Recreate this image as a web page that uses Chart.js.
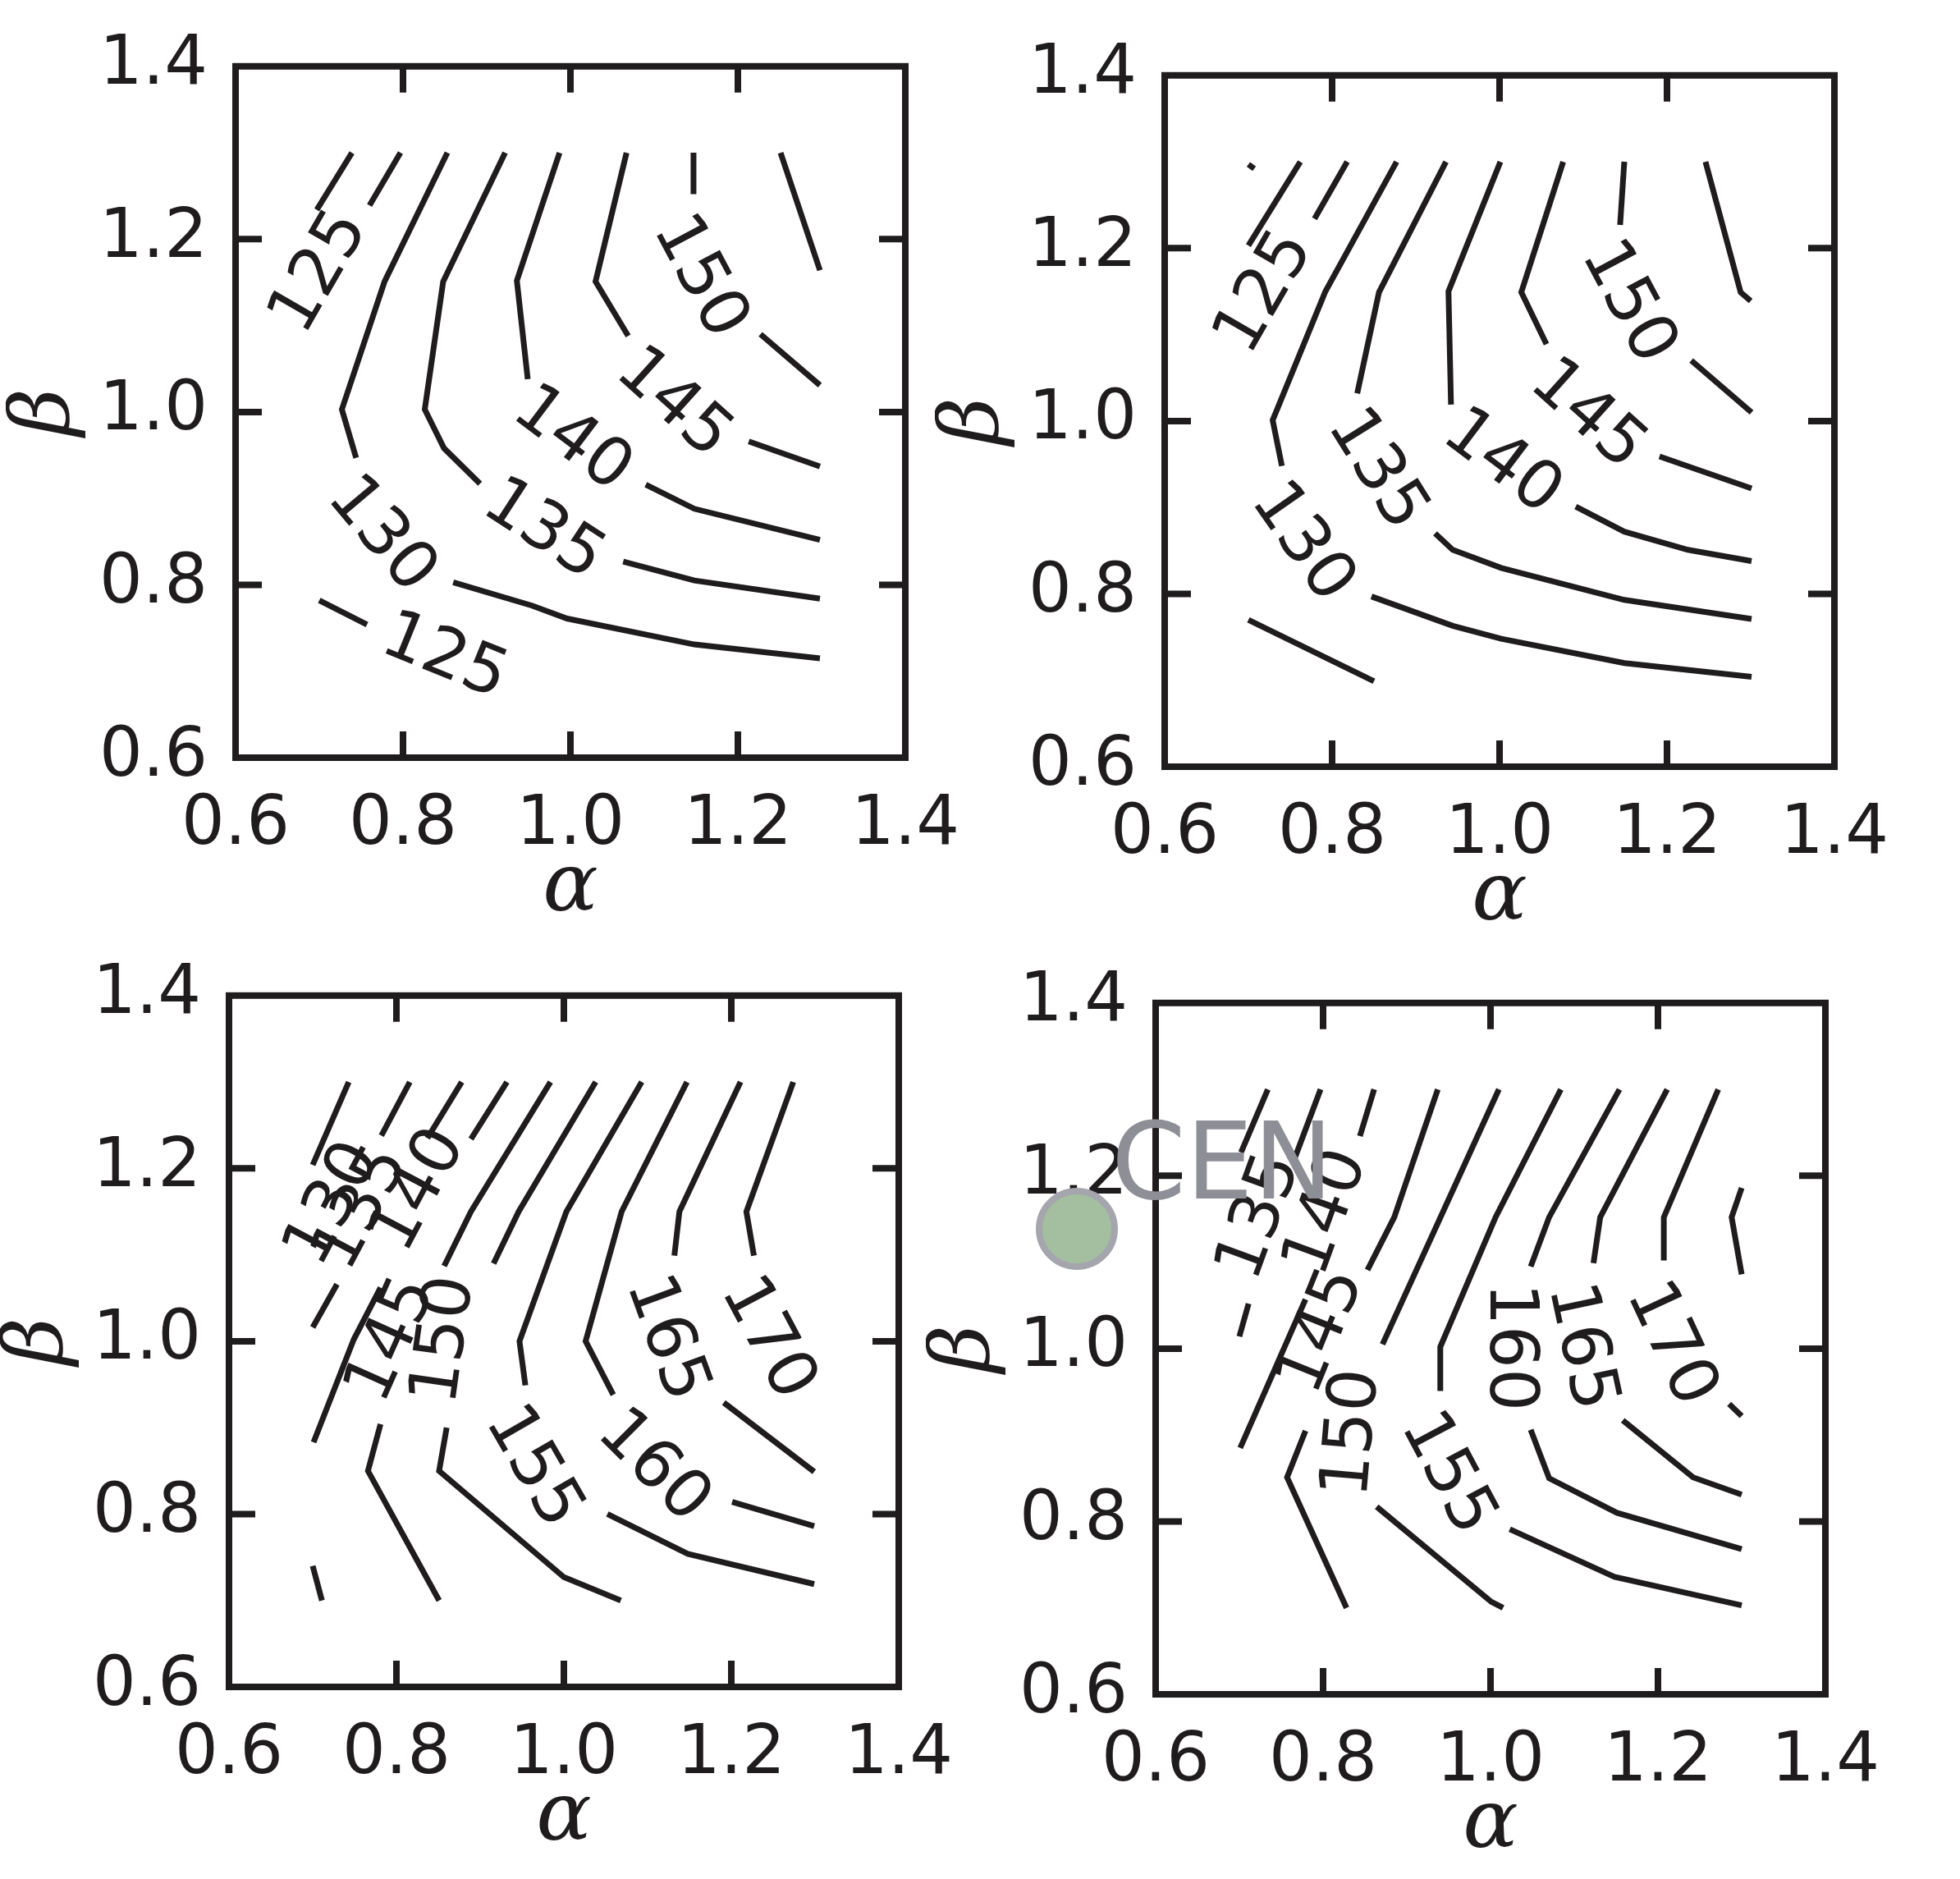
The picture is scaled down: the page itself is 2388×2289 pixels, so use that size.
<!DOCTYPE html>
<html><head><meta charset="utf-8">
<script src="https://cdn.jsdelivr.net/npm/chart.js@4"></script>
<style>
html,body{margin:0;padding:0;background:#fff;width:2388px;height:2289px;overflow:hidden;position:relative}
canvas{position:absolute}
#cen{position:absolute;left:1262px;top:1447px;width:84px;height:84px;border-radius:50%;background:#a3bfa0;border:8px solid #a5a6ad}
#centxt{position:absolute;left:1354px;top:1350px;font:130px "DejaVu Sans";line-height:130px;color:#8e8f96}
</style></head><body>
<div id="cen"></div><div id="centxt">CEN</div>
<script>
// ---- data (alpha, beta) ----
const xTicks=[0.6,0.8,1.0,1.2,1.4];
const yTicks=[0.6,0.8,1.0,1.2,1.4];
const p1Lines=[
 [[0.739,1.300],[0.697,1.234]],
 [[0.797,1.300],[0.760,1.239]],
 [[0.853,1.300],[0.778,1.151],[0.727,1.003],[0.744,0.947]],
 [[0.860,0.803],[0.954,0.776],[0.996,0.761],[1.148,0.731],[1.298,0.715]],
 [[0.922,1.300],[0.848,1.151],[0.826,1.003],[0.849,0.958],[0.892,0.917]],
 [[1.063,0.827],[1.148,0.805],[1.298,0.784]],
 [[0.987,1.300],[0.936,1.152],[0.949,1.038]],
 [[1.090,0.916],[1.148,0.888],[1.298,0.852]],
 [[1.067,1.300],[1.030,1.151],[1.069,1.088]],
 [[1.213,0.966],[1.298,0.937]],
 [[1.147,1.300],[1.147,1.252]],
 [[1.227,1.090],[1.298,1.031]],
 [[1.251,1.300],[1.298,1.164]],
 [[0.700,0.782],[0.757,0.754]]
];
const p1Labels=[[0.702,1.161,125,-60],[0.773,0.857,130,50],[0.967,0.862,135,33],[1.001,0.967,140,37],[1.122,1.009,145,42],[1.153,1.156,150,62],[0.849,0.715,125,22]];
const p2Lines=[
 [[0.700,1.297],[0.707,1.292]],
 [[0.762,1.300],[0.700,1.203]],
 [[0.818,1.300],[0.779,1.234]],
 [[0.877,1.300],[0.792,1.150],[0.729,1.001],[0.740,0.948]],
 [[0.847,0.797],[0.944,0.763],[1.002,0.748],[1.149,0.720],[1.301,0.704]],
 [[0.936,1.300],[0.856,1.149],[0.830,1.032]],
 [[0.923,0.870],[0.944,0.851],[1.002,0.830],[1.149,0.793],[1.301,0.771]],
 [[1.001,1.300],[0.939,1.150],[0.942,1.019]],
 [[1.091,0.901],[1.149,0.872],[1.225,0.851],[1.301,0.838]],
 [[1.076,1.300],[1.026,1.149],[1.056,1.089]],
 [[1.191,0.959],[1.301,0.922]],
 [[1.149,1.300],[1.144,1.227]],
 [[1.229,1.070],[1.301,1.010]],
 [[1.246,1.300],[1.288,1.149],[1.300,1.139]],
 [[0.700,0.770],[0.850,0.699]]
];
const p2Labels=[[0.721,1.148,125,-60],[0.763,0.859,130,55],[0.852,0.943,135,58],[1.002,0.951,140,37],[1.104,1.006,145,42],[1.152,1.137,150,62]];
const p3Lines=[
 [[0.743,1.300],[0.700,1.204]],
 [[0.816,1.300],[0.782,1.238]],
 [[0.878,1.300],[0.837,1.235]],
 [[0.932,1.300],[0.889,1.234]],
 [[0.984,1.300],[0.889,1.150],[0.857,1.087]],
 [[1.038,1.300],[0.946,1.150],[0.916,1.090]],
 [[1.093,1.300],[1.003,1.150],[0.947,1.000],[0.954,0.949]],
 [[1.147,1.300],[1.069,1.150],[1.026,1.000],[1.059,0.938]],
 [[1.211,1.300],[1.138,1.150],[1.132,1.099]],
 [[1.274,1.300],[1.218,1.150],[1.227,1.099]],
 [[0.729,1.066],[0.700,1.016]],
 [[0.781,1.062],[0.749,1.002],[0.701,0.883]],
 [[0.781,0.904],[0.766,0.850],[0.851,0.700]],
 [[0.860,0.900],[0.851,0.850],[1.000,0.727],[1.068,0.700]],
 [[1.052,0.800],[1.148,0.754],[1.299,0.719]],
 [[1.201,0.814],[1.299,0.786]],
 [[1.191,0.929],[1.299,0.849]],
 [[0.700,0.740],[0.711,0.700]]
];
const p3Labels=[[0.726,1.158,130,-62],[0.760,1.153,135,-62],[0.828,1.174,140,-62],[0.796,1.001,145,-66],[0.859,1.001,150,-82],[0.962,0.854,155,60],[1.106,0.854,160,45],[1.121,1.003,165,70],[1.242,1.003,170,62]];
const p4Lines=[
 [[0.734,1.300],[0.702,1.227]],
 [[0.797,1.300],[0.766,1.220]],
 [[0.861,1.300],[0.844,1.246]],
 [[0.937,1.300],[0.885,1.152],[0.853,1.091]],
 [[1.010,1.300],[0.871,1.005]],
 [[1.084,1.300],[1.006,1.152],[0.940,1.002],[0.940,0.951]],
 [[1.154,1.300],[1.070,1.152],[1.048,1.095]],
 [[1.211,1.300],[1.131,1.152],[1.123,1.099]],
 [[1.272,1.300],[1.207,1.152],[1.207,1.102]],
 [[1.300,1.186],[1.288,1.152],[1.300,1.086]],
 [[0.711,1.052],[0.700,1.014]],
 [[0.779,1.057],[0.701,0.885]],
 [[0.779,0.905],[0.757,0.851],[0.828,0.700]],
 [[0.864,0.817],[1.001,0.707],[1.015,0.700]],
 [[1.023,0.791],[1.148,0.736],[1.300,0.703]],
 [[1.048,0.906],[1.070,0.850],[1.151,0.810],[1.300,0.768]],
 [[1.158,0.917],[1.242,0.851],[1.300,0.831]],
 [[1.285,0.936],[1.300,0.922]]
];
const p4Labels=[[0.726,1.152,135,-70],[0.806,1.157,140,-70],[0.800,1.020,145,-68],[0.837,0.902,150,-85],[0.947,0.855,155,62],[1.021,1.002,160,90],[1.107,1.002,165,78],[1.214,1.005,170,65]];

// ---- layout ----
const frames=[[287,67,1143,923],[1419,78,2275,934],[279,1199,1135,2055],[1408,1208,2264,2064]];
const allLines=[p1Lines,p2Lines,p3Lines,p4Lines];
const allLabels=[p1Labels,p2Labels,p3Labels,p4Labels];
const INK='#1f1c1d';
const AX=280, TOPP=70, RP=60, XH=240;

const framePlugin={id:'frame',
 afterDatasetsDraw(chart,args,opts){
  const ctx=chart.ctx,a=chart.chartArea,sx=chart.scales.x,sy=chart.scales.y;
  ctx.save();
  ctx.fillStyle=INK;ctx.font='82px "DejaVu Sans"';ctx.textAlign='center';ctx.textBaseline='middle';
  for(const [x,y,t,r] of opts.labels){
    ctx.save();ctx.translate(sx.getPixelForValue(x),sy.getPixelForValue(y));ctx.rotate(r*Math.PI/180);
    ctx.fillText(String(t),0,0);ctx.restore();
  }
  ctx.strokeStyle=INK;ctx.lineWidth=8;
  ctx.strokeRect(a.left,a.top,a.right-a.left,a.bottom-a.top);
  const L=32;ctx.beginPath();
  for(const v of xTicks.slice(1,-1)){const p=sx.getPixelForValue(v);ctx.moveTo(p,a.bottom);ctx.lineTo(p,a.bottom-L);ctx.moveTo(p,a.top);ctx.lineTo(p,a.top+L);}
  for(const v of yTicks.slice(1,-1)){const p=sy.getPixelForValue(v);ctx.moveTo(a.left,p);ctx.lineTo(a.left+L,p);ctx.moveTo(a.right,p);ctx.lineTo(a.right-L,p);}
  ctx.stroke();ctx.restore();
 }};

frames.forEach((f,i)=>{
 const [l,t,r,b]=f;const W=r-l,H=b-t;
 const c=document.createElement('canvas');
 c.width=W+AX+RP;c.height=H+TOPP+XH;
 c.style.left=(l-AX)+'px';c.style.top=(t-TOPP)+'px';
 c.style.width=c.width+'px';c.style.height=c.height+'px';
 document.body.insertBefore(c,document.getElementById('cen'));
 new Chart(c,{type:'scatter',
  data:{datasets:allLines[i].map(seg=>({data:seg.map(p=>({x:p[0],y:p[1]})),showLine:true,borderColor:INK,borderWidth:7,pointRadius:0,tension:0,fill:false,borderCapStyle:'butt'}))},
  options:{responsive:false,devicePixelRatio:1,animation:false,
   layout:{padding:{top:TOPP,right:RP,left:0,bottom:0}},
   plugins:{legend:{display:false},tooltip:{enabled:false},frame:{labels:allLabels[i]}},
   scales:{
    x:{type:'linear',min:0.6,max:1.4,afterBuildTicks:s=>{s.ticks=xTicks.map(v=>({value:v}));},afterFit:s=>{s.height=XH;},
      grid:{display:false,drawTicks:false},border:{display:false},
      ticks:{autoSkip:false,maxRotation:0,padding:34,color:INK,font:{family:'DejaVu Sans',size:83},callback:v=>v.toFixed(1)},
      title:{display:true,text:'α',color:INK,font:{family:'DejaVu Serif',style:'italic',size:100,lineHeight:1.2},padding:{top:0,bottom:20}}},
    y:{type:'linear',min:0.6,max:1.4,afterBuildTicks:s=>{s.ticks=yTicks.map(v=>({value:v}));},afterFit:s=>{s.width=AX;},
      grid:{display:false,drawTicks:false},border:{display:false},
      ticks:{autoSkip:false,padding:34,color:INK,font:{family:'DejaVu Sans',size:83},callback:v=>v.toFixed(1)},
      title:{display:true,text:'β',color:INK,font:{family:'DejaVu Serif',style:'italic',size:100,lineHeight:1.0},padding:0}}
   }},
  plugins:[framePlugin]});
});
</script></body></html>
